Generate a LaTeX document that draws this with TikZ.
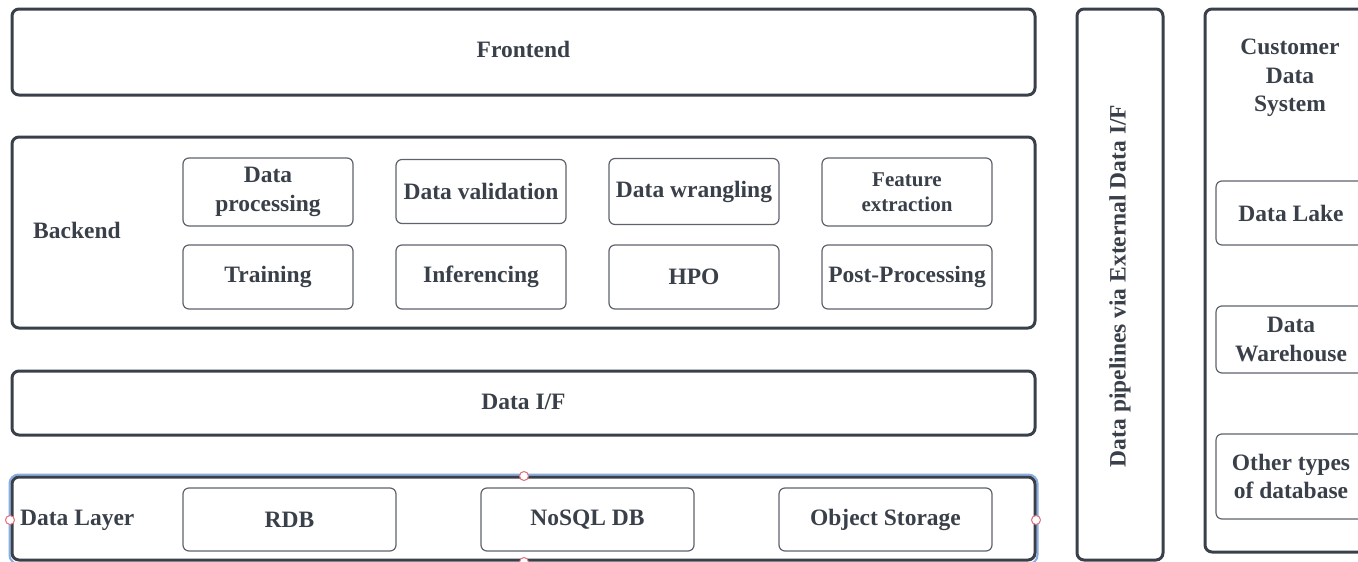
\documentclass[tikz,border=0pt]{standalone}
\usepackage{fontspec}
\setmainfont{Liberation Serif}
\definecolor{ink}{HTML}{3A4049}
\definecolor{thin}{HTML}{5E636B}
\definecolor{selblue}{HTML}{86ADE6}
\definecolor{selred}{HTML}{E0707E}
\tikzset{
  outer/.style={draw=ink, line width=3pt, rounded corners=7pt, inner sep=0pt},
  inner/.style={draw=thin, line width=1.2pt, rounded corners=6pt, inner sep=0pt, align=center, text=ink, font=\bfseries\fontsize{23.5}{28.5}\selectfont},
  lbl/.style={text=ink, align=center, inner sep=0pt, font=\bfseries\fontsize{23.5}{28.5}\selectfont},
  handle/.style={circle, draw=selred, fill=white, line width=1pt, minimum size=9pt, inner sep=0pt}
}
\begin{document}
\begin{tikzpicture}[x=1pt,y=-1pt]
\useasboundingbox (0,0) rectangle (1358,562);
% main column
\node[outer, minimum width=1023pt, minimum height=86pt] (front) at (523.5,52) {};
\node[lbl] (frontl) at (523.5,49) {Frontend};
\node[outer, minimum width=1023pt, minimum height=191pt] (back) at (523.5,232.5) {};
\node[lbl, anchor=west] (backl) at (33,230) {Backend};
\node[inner, minimum width=170pt, minimum height=68pt] (dproc) at (268,192) {Data\\processing};
\node[inner, minimum width=170pt, minimum height=64pt] (dval) at (481,191.5) {Data validation};
\node[inner, minimum width=170pt, minimum height=66pt] (dwr) at (694,191.5) {Data wrangling};
\node[inner, minimum width=170pt, minimum height=68pt, font=\bfseries\fontsize{21}{25}\selectfont] (feat) at (907,192) {Feature\\extraction};
\node[inner, minimum width=170pt, minimum height=64pt] (train) at (268,277) {Training};
\node[inner, minimum width=170pt, minimum height=64pt] (infer) at (481,277) {Inferencing};
\node[inner, minimum width=170pt, minimum height=64pt] (hpo) at (694,277) {HPO};
\node[inner, minimum width=170pt, minimum height=64pt] (post) at (907,277) {Post-Processing};
\node[outer, minimum width=1023pt, minimum height=64pt] (dif) at (523.5,403) {};
\node[lbl] (difl) at (523.5,402) {Data I/F};
% data layer with selection
\draw[selblue, line width=2pt, rounded corners=9pt] (9.5,474.5) rectangle (1037.5,564);
\node[outer, minimum width=1023pt, minimum height=83pt] (dl) at (523.5,518.5) {};
\node[lbl, anchor=west] (dll) at (20,520) {Data Layer};
\node[inner, minimum width=213pt, minimum height=63pt] (rdb) at (289.5,519.5) {RDB};
\node[inner, minimum width=213pt, minimum height=63pt] (nosql) at (587.5,519.5) {NoSQL DB};
\node[inner, minimum width=213pt, minimum height=63pt] (obj) at (885.5,519.5) {Object Storage};
\node[handle] (h1) at (524,476) {};
\node[handle] (h2) at (10,520) {};
\node[handle] (h3) at (1036,520) {};
\node[handle] (h4) at (524,562) {};
% vertical pipeline box
\node[outer, minimum width=86pt, minimum height=551pt] (pipe) at (1120,284.5) {};
\node[lbl, rotate=90] (pipel) at (1120,286) {Data pipelines via External Data I/F};
% customer data system
\node[outer, minimum width=175pt, minimum height=543pt] (cds) at (1292.5,280.5) {};
\node[lbl] (cdsl) at (1290,78) {Customer\\Data\\System};
\node[inner, minimum width=150pt, minimum height=64pt] (lake) at (1291,213) {Data Lake};
\node[inner, minimum width=150pt, minimum height=67pt] (wh) at (1291,339.5) {Data\\Warehouse};
\node[inner, minimum width=150pt, minimum height=85pt] (other) at (1291,476.5) {Other types\\of database};
\end{tikzpicture}
\end{document}
